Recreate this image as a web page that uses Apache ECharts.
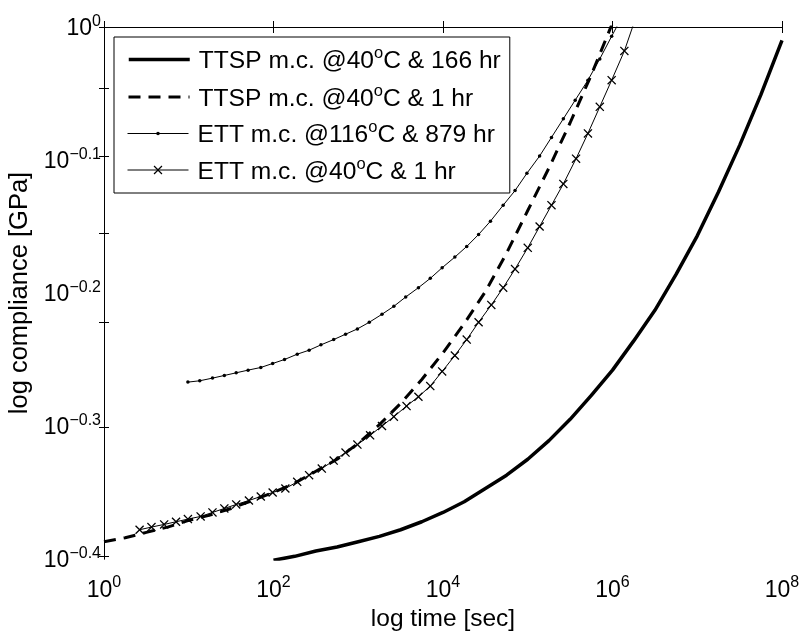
<!DOCTYPE html>
<html><head><meta charset="utf-8">
<script src="https://cdn.jsdelivr.net/npm/echarts@6/dist/echarts.min.js"></script>
<style>html,body{margin:0;padding:0;background:#fff}#c{width:800px;height:634px}</style>
</head><body><div id="c"></div>
<script>
// Values are log10(time [s]) and log10(compliance [GPa]).
const seriesNames = ['TTSP m.c. @40°C & 166 hr', 'TTSP m.c. @40°C & 1 hr', 'ETT m.c. @116°C & 879 hr', 'ETT m.c. @40°C & 1 hr'];

const ttsp166LogT = [2.0, 2.25, 2.5, 2.75, 3.0, 3.25, 3.5, 3.75, 4.0, 4.25, 4.5, 4.75, 5.0, 5.25, 5.5, 5.75, 6.0, 6.25, 6.5, 6.75, 7.0, 7.25, 7.5, 7.75, 8.0];
const ttsp166LogD = [-0.401, -0.398, -0.394, -0.391, -0.387, -0.383, -0.378, -0.372, -0.365, -0.357, -0.347, -0.337, -0.325, -0.311, -0.295, -0.277, -0.258, -0.236, -0.213, -0.186, -0.157, -0.124, -0.089, -0.051, -0.010];

const ttsp1LogT = [0, 0.25, 0.5, 0.75, 1.0, 1.25, 1.5, 1.75, 2.0, 2.25, 2.5, 2.75, 3.0, 3.25, 3.5, 3.75, 4.0, 4.25, 4.5, 4.75, 5.0, 5.25, 5.5, 5.75, 6.0, 6.25];
const ttsp1LogD = [-0.387, -0.384, -0.380, -0.376, -0.371, -0.367, -0.362, -0.356, -0.350, -0.343, -0.334, -0.325, -0.313, -0.299, -0.283, -0.265, -0.245, -0.223, -0.199, -0.170, -0.138, -0.106, -0.072, -0.036, 0.003, 0.043];

const ett879LogT = [0.99, 1.13, 1.28, 1.42, 1.56, 1.70, 1.85, 1.99, 2.13, 2.28, 2.42, 2.56, 2.71, 2.85, 2.99, 3.13, 3.28, 3.42, 3.56, 3.71, 3.85, 3.99, 4.14, 4.28, 4.42, 4.56, 4.71, 4.85, 4.99, 5.14, 5.28, 5.42, 5.56, 5.71, 5.85, 5.99, 6.14];
const ett879LogD = [-0.267, -0.266, -0.264, -0.262, -0.260, -0.258, -0.256, -0.253, -0.250, -0.246, -0.243, -0.239, -0.235, -0.231, -0.227, -0.222, -0.216, -0.210, -0.203, -0.196, -0.189, -0.181, -0.173, -0.165, -0.156, -0.146, -0.134, -0.123, -0.110, -0.097, -0.083, -0.069, -0.055, -0.040, -0.024, -0.007, 0.011];

const ett1LogT = [0.42, 0.56, 0.71, 0.85, 0.99, 1.14, 1.28, 1.42, 1.56, 1.71, 1.85, 1.99, 2.14, 2.28, 2.42, 2.57, 2.71, 2.85, 2.99, 3.14, 3.28, 3.42, 3.57, 3.71, 3.85, 3.99, 4.14, 4.28, 4.42, 4.57, 4.71, 4.85, 5.00, 5.14, 5.28, 5.42, 5.57, 5.71, 5.85, 5.99, 6.14, 6.28];
const ett1LogD = [-0.378, -0.376, -0.374, -0.372, -0.370, -0.368, -0.365, -0.362, -0.359, -0.356, -0.353, -0.350, -0.347, -0.342, -0.337, -0.332, -0.326, -0.320, -0.314, -0.307, -0.300, -0.293, -0.285, -0.278, -0.270, -0.259, -0.247, -0.235, -0.222, -0.209, -0.196, -0.182, -0.166, -0.150, -0.134, -0.118, -0.099, -0.080, -0.060, -0.040, -0.018, 0.008];

const xTickExps = [0, 2, 4, 6, 8];
const yTickExps = [-0.4, -0.3, -0.2, -0.1, 0];
const yMinorTickValues = [0.4, 0.5, 0.6, 0.7, 0.8, 0.9, 1.0];

const FONT = 'Liberation Sans, Arial, Helvetica, sans-serif';
const zip = (a, b) => a.map((v, i) => [v, b[i]]);
const xMarker = 'path://M0,1L1,0L5,4L9,0L10,1L6,5L10,9L9,10L5,6L1,10L0,9L4,5Z';

function fmtExp(v) {
  let s = (Math.round(v * 10) / 10).toString();
  if (s === '-0') s = '0';
  s = s.replace('-', '\u2212');
  return '{b|10}{s|' + s + '}';
}
const tickRich = {
  b: { fontSize: 23, fontFamily: FONT, color: '#000', verticalAlign: 'bottom' },
  s: { fontSize: 16, fontFamily: FONT, color: '#000', verticalAlign: 'bottom', padding: [0, 0, 11, 0] }
};
const legendRich = {
  t: { fontSize: 24.6, fontFamily: FONT, color: '#000', verticalAlign: 'bottom' },
  s: { fontSize: 16.5, fontFamily: FONT, color: '#000', verticalAlign: 'bottom', padding: [0, 0, 12, 0] }
};
function legendFmt(name) {
  const p = name.split('°');
  return '{t|' + p[0] + '}{s|o}{t|' + p[1] + '}';
}

const minorLog = yMinorTickValues.map(v => Math.log10(v));
const axisLineStyle = { show: true, lineStyle: { color: '#000', width: 1 } };

const legendRows = [
  { name: seriesNames[0], h: 10, padTop: 8, line: { width: 3.5, type: 'solid' }, hideSym: true },
  { name: seriesNames[1], h: 10, padTop: 45.5, line: { width: 3, type: [12, 8] }, hideSym: true },
  { name: seriesNames[2], h: 4.5, padTop: 82, line: { width: 1, type: 'solid' }, hideSym: false },
  { name: seriesNames[3], h: 11, padTop: 118.5, line: { width: 1, type: 'solid' }, hideSym: false }
];

const legends = legendRows.map((r, i) => ({
  orient: 'vertical',
  left: 114,
  top: 37,
  z: i === 0 ? 9 : 10,
  padding: i === 0 ? [r.padTop, 9, 119, 13] : [r.padTop, 0, 0, 13],
  borderColor: '#000',
  borderWidth: i === 0 ? 1 : 0,
  backgroundColor: i === 0 ? '#fff' : 'transparent',
  borderRadius: 0,
  itemWidth: 61,
  itemHeight: r.h,
  itemGap: 0,
  selectedMode: false,
  data: [r.name],
  lineStyle: { width: r.line.width, type: r.line.type, color: '#000' },
  itemStyle: r.hideSym ? { opacity: 0 } : { color: '#000', borderWidth: 0 },
  formatter: legendFmt,
  textStyle: { rich: legendRich, fontSize: 24.6, fontFamily: FONT, color: '#000', padding: [0, 0, 0, 4] }
}));

const option = {
  animation: false,
  backgroundColor: '#fff',
  grid: { left: 104, right: 18, top: 27, bottom: 75, containLabel: false, outerBoundsMode: 'none' },
  legend: legends,
  xAxis: [{
    type: 'value', min: 0, max: 8, interval: 2, position: 'bottom',
    name: 'log time [sec]', nameLocation: 'middle', nameGap: 36,
    nameTextStyle: { fontSize: 24.5, fontFamily: FONT, color: '#000' },
    axisLine: axisLineStyle,
    axisTick: { show: true, inside: true, length: 6, lineStyle: { color: '#000' } },
    axisLabel: { margin: 16, formatter: v => fmtExp(v), rich: tickRich, color: '#000' },
    splitLine: { show: false }
  }, {
    type: 'value', min: 0, max: 8, interval: 2, position: 'top',
    axisLine: axisLineStyle,
    axisTick: { show: true, inside: true, length: 6, lineStyle: { color: '#000' } },
    axisLabel: { show: false }, splitLine: { show: false }
  }],
  yAxis: [{
    type: 'value', min: -0.4, max: 0, interval: 0.1, position: 'left',
    name: 'log compliance [GPa]', nameLocation: 'middle', nameGap: 62,
    nameTextStyle: { fontSize: 25.5, fontFamily: FONT, color: '#000' },
    axisLine: axisLineStyle,
    axisTick: { show: true, inside: true, length: 5, customValues: minorLog, lineStyle: { color: '#000' } },
    axisLabel: { margin: 3, formatter: v => fmtExp(v), rich: tickRich, color: '#000', customValues: yTickExps },
    splitLine: { show: false }
  }, {
    type: 'value', min: -0.4, max: 0, interval: 0.1, position: 'right',
    axisLine: axisLineStyle,
    axisTick: { show: true, inside: true, length: 5, customValues: minorLog, lineStyle: { color: '#000' } },
    axisLabel: { show: false }, splitLine: { show: false }
  }],
  series: [
    { name: seriesNames[0], type: 'line', data: zip(ttsp166LogT, ttsp166LogD), symbol: 'none',
      lineStyle: { color: '#000', width: 3.5 }, itemStyle: { color: '#000' }, z: 3 },
    { name: seriesNames[1], type: 'line', data: zip(ttsp1LogT, ttsp1LogD), symbol: 'none',
      lineStyle: { color: '#000', width: 3, type: [12, 8] }, itemStyle: { color: '#000' }, z: 3 },
    { name: seriesNames[2], type: 'line', data: zip(ett879LogT, ett879LogD), symbol: 'circle', symbolSize: 3.5, showSymbol: true,
      lineStyle: { color: '#000', width: 1 }, itemStyle: { color: '#000', borderWidth: 0 }, z: 3 },
    { name: seriesNames[3], type: 'line', data: zip(ett1LogT, ett1LogD), symbol: xMarker, symbolSize: 9, showSymbol: true,
      lineStyle: { color: '#000', width: 1 }, itemStyle: { color: '#000', borderWidth: 0 }, z: 3 }
  ]
};
const chart = echarts.init(document.getElementById('c'), null, { renderer: 'canvas' });
chart.setOption(option);
</script></body></html>
